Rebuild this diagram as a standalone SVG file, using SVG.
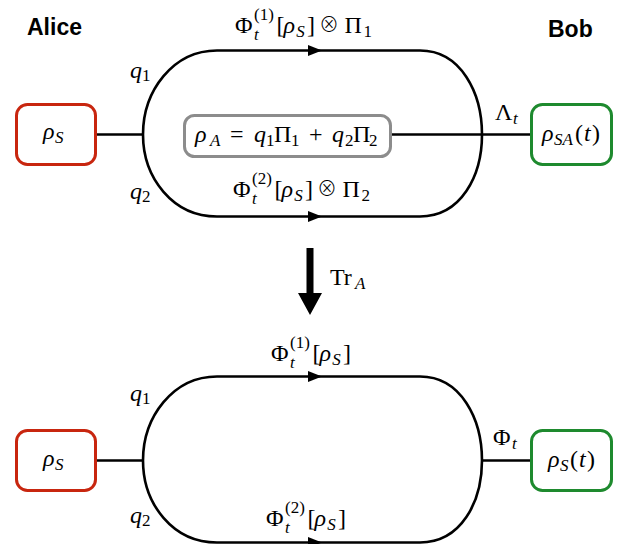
<svg xmlns="http://www.w3.org/2000/svg" xmlns:xlink="http://www.w3.org/1999/xlink" width="620" height="544" viewBox="0 0 620 544">
<style>
.bg{fill:#fff}
.box{fill:#fff;stroke-width:3}
.red{stroke:#c8260f}
.green{stroke:#1e8a2e}
.gray{stroke:#8c8c8c}
.wire{fill:none;stroke:#000;stroke-width:2.6}
.m{font-family:"Liberation Serif","DejaVu Serif",serif;font-size:24px;fill:#000}
.i{font-style:italic}
.s{font-size:17px}
.op{font-family:"Noto Sans CJK JP","DejaVu Serif",serif;font-size:20px;font-weight:300}
.ttl{font-family:"Liberation Sans",Arial,sans-serif;font-weight:bold;font-size:23px;fill:#000}
</style>
<defs>
<path id="ah" d="M-14,-5.5 L0,0 L-14,5.5 Z" fill="#000"/>
</defs>
<rect class="bg" x="0" y="0" width="620" height="544"/>

<g id="connectors">
  <path class="wire" d="M217,50.5 L420,50.5 C461,50.5 482,93 482,134.5 C482,176 461,216.5 420,216.5 L217,216.5 C173,216.5 143,178 143,134.5 C143,91 173,50.5 217,50.5 Z"/>
  <path class="wire" d="M97,134.5 H143"/>
  <path class="wire" d="M392,134.5 H530"/>
  <use xlink:href="#ah" x="322" y="50.5"/>
  <use xlink:href="#ah" x="322" y="216.5"/>
  <path class="wire" d="M217,376.5 L420,376.5 C461,376.5 482,419 482,460.5 C482,502 461,542.5 420,542.5 L217,542.5 C173,542.5 143,504 143,460.5 C143,417 173,376.5 217,376.5 Z"/>
  <path class="wire" d="M97,460.5 H143"/>
  <path class="wire" d="M482,460.5 H530"/>
  <use xlink:href="#ah" x="322" y="376.5"/>
  <use xlink:href="#ah" x="322" y="542.5"/>
  <path id="trace-arrow" d="M306.5,248 L313.5,248 L313.5,293 L322,293 L310,315 L298,293 L306.5,293 Z" fill="#000"/>
</g>

<g id="alice-label"><text class="ttl" x="27" y="35">Alice</text></g>
<g id="bob-label"><text class="ttl" x="548" y="37">Bob</text></g>

<g id="rhoS-top">
  <rect class="box red" x="16.5" y="104.5" width="79" height="60" rx="11"/>
  <text class="m"><tspan class="i" x="43" y="139">ρ</tspan><tspan class="s i" x="55" y="143">S</tspan></text>
</g>

<g id="rhoA">
  <rect class="box gray" x="184.5" y="115.5" width="206" height="41" rx="10"/>
  <text class="m"><tspan class="i" x="195" y="142">ρ</tspan><tspan class="s i" x="210" y="146">A</tspan><tspan x="230" y="142">=</tspan><tspan class="i" x="254" y="142">q</tspan><tspan class="s" x="266" y="146">1</tspan><tspan x="274" y="142">Π</tspan><tspan class="s" x="291" y="146">1</tspan><tspan x="309" y="142">+</tspan><tspan class="i" x="332" y="142">q</tspan><tspan class="s" x="345" y="146">2</tspan><tspan x="353" y="142">Π</tspan><tspan class="s" x="369" y="146">2</tspan></text>
</g>

<g id="rhoSA">
  <rect class="box green" x="531.5" y="104.5" width="80" height="60" rx="11"/>
  <text class="m"><tspan class="i" x="542" y="141">ρ</tspan><tspan class="s i" x="554" y="145">SA</tspan><tspan x="575" y="141">(</tspan><tspan class="i" x="584" y="141">t</tspan><tspan x="592" y="141">)</tspan></text>
</g>

<g id="label-top-1">
  <text class="m"><tspan x="235" y="33">Φ</tspan><tspan class="s" x="254" y="20">(1)</tspan><tspan class="s i" x="254" y="40">t</tspan><tspan x="276.4" y="33">[</tspan><tspan class="i" x="283.4" y="33">ρ</tspan><tspan class="s i" x="296.3" y="37">S</tspan><tspan x="307" y="33">]</tspan><tspan class="op" x="319" y="32">⊗</tspan><tspan x="344.6" y="33">Π</tspan><tspan class="s" x="363.4" y="37">1</tspan></text>
</g>
<g id="label-top-2">
  <text class="m"><tspan x="233" y="197">Φ</tspan><tspan class="s" x="252" y="184">(2)</tspan><tspan class="s i" x="252" y="204">t</tspan><tspan x="274.4" y="197">[</tspan><tspan class="i" x="281.4" y="197">ρ</tspan><tspan class="s i" x="294.3" y="201">S</tspan><tspan x="305" y="197">]</tspan><tspan class="op" x="317" y="196">⊗</tspan><tspan x="342.6" y="197">Π</tspan><tspan class="s" x="361.4" y="201">2</tspan></text>
</g>
<g id="label-lambda">
  <text class="m"><tspan x="495" y="120">Λ</tspan><tspan class="s i" x="513" y="124">t</tspan></text>
</g>
<g id="label-q1-top"><text class="m"><tspan class="i" x="130" y="78">q</tspan><tspan class="s" x="142" y="81">1</tspan></text></g>
<g id="label-q2-top"><text class="m"><tspan class="i" x="130" y="199">q</tspan><tspan class="s" x="142" y="202">2</tspan></text></g>

<g id="label-trace"><text class="m"><tspan x="330" y="285">Tr</tspan><tspan class="s i" x="355" y="289">A</tspan></text></g>

<g id="rhoS-bottom">
  <rect class="box red" x="16.5" y="430.5" width="79" height="60" rx="11"/>
  <text class="m"><tspan class="i" x="43" y="466">ρ</tspan><tspan class="s i" x="55" y="470">S</tspan></text>
</g>
<g id="rhoS-t">
  <rect class="box green" x="531.5" y="430.5" width="80" height="60" rx="11"/>
  <text class="m"><tspan class="i" x="548" y="467">ρ</tspan><tspan class="s i" x="560" y="471">S</tspan><tspan x="570" y="467">(</tspan><tspan class="i" x="579" y="467">t</tspan><tspan x="587" y="467">)</tspan></text>
</g>
<g id="label-bottom-1">
  <text class="m"><tspan x="271" y="361">Φ</tspan><tspan class="s" x="290" y="348">(1)</tspan><tspan class="s i" x="290" y="368">t</tspan><tspan x="312.4" y="361">[</tspan><tspan class="i" x="319.4" y="361">ρ</tspan><tspan class="s i" x="332.3" y="365">S</tspan><tspan x="343" y="361">]</tspan></text>
</g>
<g id="label-bottom-2">
  <text class="m"><tspan x="266" y="526">Φ</tspan><tspan class="s" x="285" y="513">(2)</tspan><tspan class="s i" x="285" y="533">t</tspan><tspan x="307.4" y="526">[</tspan><tspan class="i" x="314.4" y="526">ρ</tspan><tspan class="s i" x="327.3" y="530">S</tspan><tspan x="338" y="526">]</tspan></text>
</g>
<g id="label-phi"><text class="m"><tspan x="493" y="445">Φ</tspan><tspan class="s i" x="512" y="449">t</tspan></text></g>
<g id="label-q1-bottom"><text class="m"><tspan class="i" x="130" y="401">q</tspan><tspan class="s" x="142" y="404">1</tspan></text></g>
<g id="label-q2-bottom"><text class="m"><tspan class="i" x="130" y="523">q</tspan><tspan class="s" x="142" y="526">2</tspan></text></g>
</svg>
